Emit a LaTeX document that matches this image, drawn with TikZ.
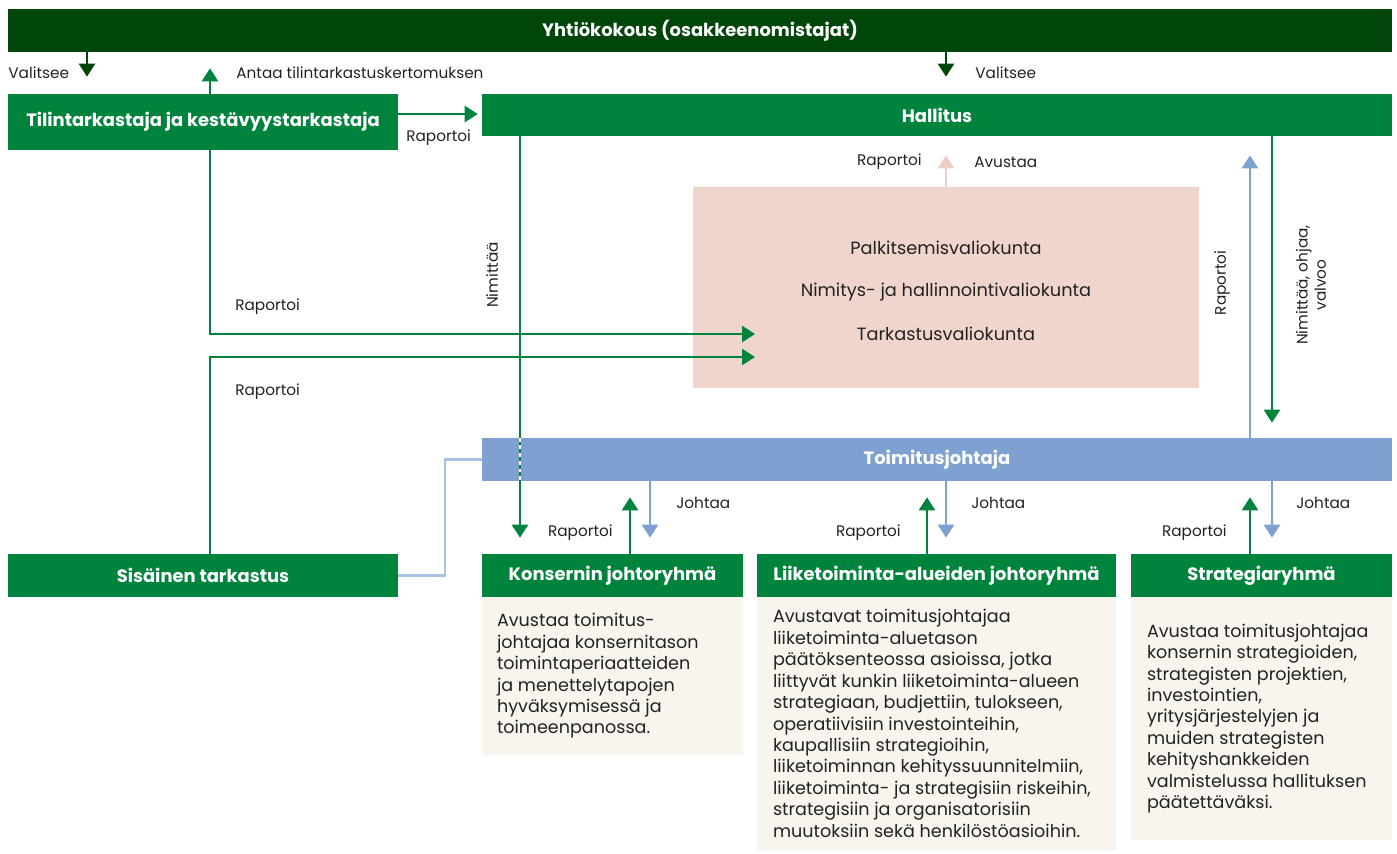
\documentclass[tikz,border=0pt]{standalone}
\usepackage{fontspec}
\setmainfont{Poppins}
\usetikzlibrary{arrows.meta}
\definecolor{tumma}{HTML}{00460A}
\definecolor{vihrea}{HTML}{00843D}
\definecolor{sininen}{HTML}{7FA1D1}
\definecolor{vsininen}{HTML}{A9C2E4}
\definecolor{roosa}{HTML}{F0D5CD}
\definecolor{nroosa}{HTML}{EDCFC6}
\definecolor{kerma}{HTML}{F8F5EE}
\definecolor{teksti}{HTML}{222222}

\begin{document}
\begin{tikzpicture}[
    x=0.02cm, y=-0.02cm,
    box/.style={inner sep=0pt, text=white, font=\bfseries\fontsize{10.2}{12}\selectfont},
    hdr/.style={box, fill=tumma, minimum width=27.68cm, minimum height=0.86cm},
    grn/.style={box, fill=vihrea, minimum height=0.86cm},
    blu/.style={box, fill=sininen, minimum width=18.2cm, minimum height=0.86cm},
    pnk/.style={fill=roosa, inner sep=0pt, minimum width=10.12cm, minimum height=4.02cm},
    dsc/.style={fill=kerma, inner sep=0pt},
    kuv/.style={inner sep=0pt, align=left, text=teksti, font=\fontsize{10}{12.2}\selectfont},
    vtxt/.style={inner sep=0pt, text=teksti, font=\fontsize{10.1}{12}\selectfont},
    lbl/.style={inner sep=0pt, text=teksti, font=\fontsize{8.7}{10.4}\selectfont},
    tip/.style={-{Triangle[width=0.32cm,length=0.26cm]}},
    darr/.style={tip, draw=tumma, line width=1.5pt},
    garr/.style={tip, draw=vihrea, line width=1.5pt},
    barr/.style={tip, draw=sininen, line width=1.5pt},
    parr/.style={tip, draw=nroosa, line width=1.5pt},
    lline/.style={draw=vsininen, line width=1.5pt}
]
\useasboundingbox (0,0) rectangle (1397,853);

% --- boxes ---
\node[hdr] (yk) at (700,30.5) {Yhtiökokous (osakkeenomistajat)};
\node[grn, minimum width=7.8cm, minimum height=1.12cm] (tilin) at (203,122) {Tilintarkastaja ja kestävyystarkastaja};
\node[grn, minimum width=18.2cm, minimum height=0.84cm] (hall) at (937,115) {Hallitus};
\node[pnk] (valio) at (946,287.5) {};
\node[vtxt] (palk) at (946,248) {Palkitsemisvaliokunta};
\node[vtxt] (nimi) at (946,292) {Nimitys- ja hallinnointivaliokunta};
\node[vtxt] (tark) at (946,334) {Tarkastusvaliokunta};
\node[blu] (toim) at (937,459.5) {Toimitusjohtaja};
\node[grn, minimum width=7.8cm] (sis) at (203,575.5) {Sisäinen tarkastus};
\node[grn, minimum width=5.22cm] (kons) at (612.5,575.5) {Konsernin johtoryhmä};
\node[grn, minimum width=7.18cm] (liik) at (936.5,575.5) {Liiketoiminta-alueiden johtoryhmä};
\node[grn, minimum width=5.22cm] (strat) at (1261.5,575.5) {Strategiaryhmä};

% --- descriptions ---
\node[dsc, minimum width=5.22cm, minimum height=3.16cm] (konsd) at (612.5,676) {};
\node[dsc, minimum width=7.18cm, minimum height=5.06cm] (liikd) at (936.5,723.5) {};
\node[dsc, minimum width=5.22cm, minimum height=4.86cm] (stratd) at (1261.5,718.5) {};
\node[kuv, anchor=west] (konst) at ([xshift=0.3cm]konsd.west) {Avustaa toimitus-\\johtajaa konsernitason\\toimintaperiaatteiden\\ja menettelytapojen\\hyväksymisessä ja\\toimeenpanossa.};
\node[kuv, anchor=west] (liikt) at ([xshift=0.32cm]liikd.west) {Avustavat toimitusjohtajaa\\liiketoiminta-aluetason\\päätöksenteossa asioissa, jotka\\liittyvät kunkin liiketoiminta-alueen\\strategiaan, budjettiin, tulokseen,\\operatiivisiin investointeihin,\\kaupallisiin strategioihin,\\liiketoiminnan kehityssuunnitelmiin,\\liiketoiminta- ja strategisiin riskeihin,\\strategisiin ja organisatorisiin\\muutoksiin sekä henkilöstöasioihin.};
\node[kuv, anchor=west] (stratt) at ([xshift=0.32cm]stratd.west) {Avustaa toimitusjohtajaa\\konsernin strategioiden,\\strategisten projektien,\\investointien,\\yritysjärjestelyjen ja\\muiden strategisten\\kehityshankkeiden\\valmistelussa hallituksen\\päätettäväksi.};

% --- connectors ---
\draw[darr, shorten >=0.34cm] (87,0 |- yk.south) -- (87,0 |- tilin.north);
\draw[garr, shorten >=0.32cm] (210,0 |- tilin.north) -- (210,0 |- yk.south);
\draw[darr, shorten >=0.34cm] (946,0 |- yk.south) -- (946,0 |- hall.north);
\draw[garr, shorten >=0.08cm] (tilin.east |- 0,114) -- (hall.west |- 0,114);
\coordinate (vin1) at (755,334);
\coordinate (vin2) at (755,357);
\draw[garr] (210,0 |- tilin.south) |- (vin1);
\draw[garr] (210,0 |- sis.north) |- (vin2);
\draw[parr, shorten >=0.38cm] (946,0 |- valio.north) -- (946,0 |- hall.south);
\draw[barr, shorten >=0.38cm] (1250,0 |- toim.north) -- (1250,0 |- hall.south);
\draw[garr, shorten >=0.3cm] (1272,0 |- hall.south) -- (1272,0 |- toim.north);
\draw[lline] (toim.west) -- (445,0 |- toim.west) |- (sis.east);
\draw[garr, shorten >=0.32cm] (520,0 |- hall.south) -- (520,0 |- kons.north);
\draw[white, line width=1.5pt, dash pattern=on 2.2pt off 2.2pt] (520,0 |- toim.north) -- (520,0 |- toim.south);
\foreach \up/\dn/\grp in {630/650/kons, 927/946/liik, 1250/1272/strat} {
  \draw[garr, shorten >=0.32cm] (\up,0 |- \grp.north) -- (\up,0 |- toim.south);
  \draw[barr, shorten >=0.32cm] (\dn,0 |- toim.south) -- (\dn,0 |- \grp.north);
}

% --- labels ---
\node[lbl, anchor=west] (v1) at (8,73) {Valitsee};
\node[lbl, anchor=west] (antaa) at (236,73) {Antaa tilintarkastuskertomuksen};
\node[lbl, anchor=west] (v2) at (975,73) {Valitsee};
\node[lbl, anchor=west] (r1) at (406,138) {Raportoi};
\node[lbl, rotate=90] (nim) at (492,275) {Nimittää};
\node[lbl, anchor=west] (r2) at (235,307) {Raportoi};
\node[lbl, anchor=west] (r3) at (235,392) {Raportoi};
\node[lbl, anchor=east] (r4) at (922,162) {Raportoi};
\node[lbl, anchor=west] (av) at (974,162) {Avustaa};
\node[lbl, rotate=90] (r5) at (1222,283) {Raportoi};
\node[lbl, rotate=90, align=center] (nov) at (1311,285) {Nimittää, ohjaa,\\valvoo};
\node[lbl, anchor=west] (j1) at (676,503) {Johtaa};
\node[lbl, anchor=east] (r6) at (613,533) {Raportoi};
\node[lbl, anchor=west] (j2) at (971,503) {Johtaa};
\node[lbl, anchor=east] (r7) at (901,533) {Raportoi};
\node[lbl, anchor=west] (j3) at (1296,503) {Johtaa};
\node[lbl, anchor=east] (r8) at (1227,533) {Raportoi};
\end{tikzpicture}
\end{document}
